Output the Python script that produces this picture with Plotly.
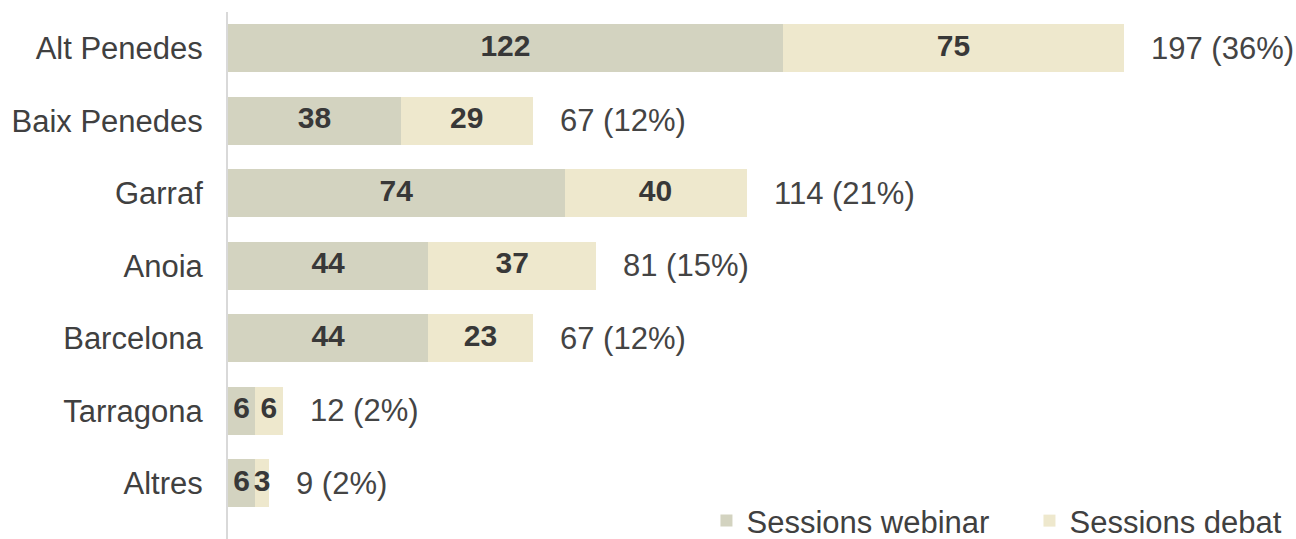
import plotly.graph_objects as go

categories = ["Alt Penedes", "Baix Penedes", "Garraf", "Anoia", "Barcelona", "Tarragona", "Altres"]
webinar = [122, 38, 74, 44, 44, 6, 6]
debat = [75, 29, 40, 37, 23, 6, 3]
series_names = ["Sessions webinar", "Sessions debat"]

totals = [w + d for w, d in zip(webinar, debat)]
grand = sum(totals)
total_labels = [f"{t} ({round(100 * t / grand)}%)" for t in totals]

FONT = "Liberation Sans, Arial, sans-serif"
C_WEB = "#d3d3c0"
C_DEB = "#eee8cd"

fig = go.Figure()
fig.add_trace(go.Bar(y=categories, x=webinar, orientation="h", name=series_names[0],
                     marker=dict(color=C_WEB, line=dict(width=0)), hoverinfo="x+y"))
fig.add_trace(go.Bar(y=categories, x=debat, orientation="h", name=series_names[1],
                     marker=dict(color=C_DEB, line=dict(width=0)), hoverinfo="x+y"))

# segment value labels centered in each segment
mid_w = [w / 2 for w in webinar]
mid_d = [w + d / 2 for w, d in zip(webinar, debat)]
fig.add_trace(go.Scatter(x=mid_w + mid_d, y=categories + categories, mode="text",
                         text=[str(v) for v in webinar + debat],
                         textposition="middle center",
                         textfont=dict(family=FONT, size=30, color="#383838", weight="bold"),
                         showlegend=False, hoverinfo="skip"))

for t, lab, c in zip(totals, total_labels, categories):
    fig.add_annotation(x=t, y=c, text=lab, showarrow=False, xanchor="left",
                       xshift=25, font=dict(family=FONT, size=31, color="#444444"))

fig.update_layout(
    width=1296, height=539,
    margin=dict(l=228, r=0, t=12, b=0, autoexpand=False),
    barmode="stack", bargap=0.34,
    plot_bgcolor="white", paper_bgcolor="white",
    font=dict(family=FONT, size=31, color="#404040"),
    xaxis=dict(range=[0, 234.8], visible=False, showgrid=False, zeroline=False),
    yaxis=dict(categoryorder="array", categoryarray=categories, range=[6.77, -0.5],
               showline=True, linecolor="#d9d9d9", linewidth=2, showgrid=False,
               ticks="", ticklabelstandoff=17, automargin=False,
               tickfont=dict(family=FONT, size=31, color="#404040")),
    legend=dict(orientation="h", x=0.448, xanchor="left", y=-0.017, yanchor="bottom",
                entrywidth=278,
                font=dict(family=FONT, size=31, color="#404040"),
                bgcolor="rgba(0,0,0,0)", traceorder="normal"),
)

fig.write_html("out.html", config={"displayModeBar": False},
               post_script="document.body.style.margin='0';document.body.style.overflow='hidden';")
